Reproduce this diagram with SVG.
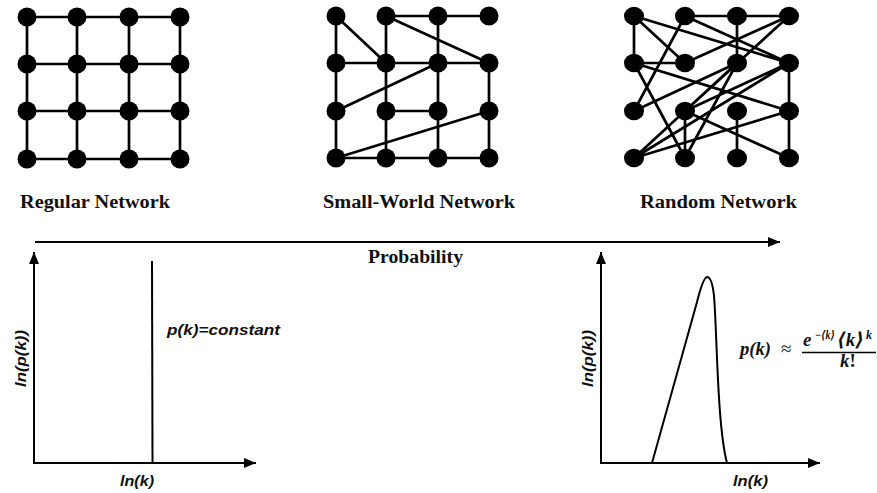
<svg xmlns="http://www.w3.org/2000/svg" width="877" height="493" viewBox="0 0 877 493">
<style>
.e{stroke:#000;stroke-width:2.7;fill:none;stroke-linecap:round}
.n{fill:#000}
.ax{stroke:#000;stroke-width:2;fill:none}
.lbl{font-family:"Liberation Serif",serif;font-weight:bold;font-size:18px;fill:#111}
.sans{font-family:"Liberation Sans",Arial,sans-serif;font-weight:bold;font-style:italic;font-size:15px;fill:#111}
.m{font-family:"Liberation Serif","DejaVu Serif",serif;font-weight:bold;font-style:italic;fill:#111}
</style>
<defs>
<marker id="ah" markerWidth="12" markerHeight="10" refX="12" refY="5" orient="auto" markerUnits="userSpaceOnUse">
<path d="M0,0 L12,5 L0,10 Z" fill="#000"/>
</marker>
</defs>
<rect width="877" height="493" fill="#fff"/>

<g id="connectors">
<g id="regular-edges">
<path class="e" d="M27,17H180M27,64H180M27,111H180M27,159H180M27,17V159M77,17V159M129,17V159M180,17V159"/>
</g>
<g id="smallworld-edges">
<path class="e" d="M386,16H489M336,63H489M386,111H438M336,158H489"/>
<path class="e" d="M336,16V158M386,16V158M438,16V158M489,63V158"/>
<path class="e" d="M336,16L386,63M386,16L489,63M336,111L438,63M336,158L489,111"/>
</g>
<g id="random-edges">
<path class="e" d="M634,16V63M685,16H789M634,63H685M737,16V63M789,63V158M737,111V158M685,111V158"/>
<path class="e" d="M634,16L685,63M634,16L789,63M685,16L789,63M685,16L634,111M685,63L789,16M634,63L685,158M634,63L789,111"/>
<path class="e" d="M634,111L737,63M737,63L634,158M789,16L685,111M737,63L685,158M789,63L634,158M789,63L685,111M789,111L634,158M685,111L789,158"/>
</g>
<line class="ax" x1="35" y1="242" x2="780" y2="242" stroke-width="2.2" marker-end="url(#ah)"/>
<g id="left-axes">
<line class="ax" x1="34" y1="463" x2="34" y2="252" marker-end="url(#ah)"/>
<line class="ax" x1="33" y1="463" x2="256" y2="463" marker-end="url(#ah)"/>
<line class="ax" x1="152" y1="261" x2="152.5" y2="463" stroke-width="2.5"/>
</g>
<g id="right-axes">
<line class="ax" x1="601" y1="463" x2="601" y2="252" marker-end="url(#ah)"/>
<line class="ax" x1="600" y1="463" x2="820" y2="463" marker-end="url(#ah)"/>
<path class="ax" stroke-width="2.5" d="M652,463 L697,302 Q703,278 707,277 Q712,277 714,296 C717,330 717,425 727,463"/>
</g>
</g>

<g id="regular-nodes">
<g id="r00"><circle class="n" cx="27" cy="17" r="9.5"/></g>
<g id="r10"><circle class="n" cx="77" cy="17" r="9.5"/></g>
<g id="r20"><circle class="n" cx="129" cy="17" r="9.5"/></g>
<g id="r30"><circle class="n" cx="180" cy="17" r="9.5"/></g>
<g id="r01"><circle class="n" cx="27" cy="64" r="9.5"/></g>
<g id="r11"><circle class="n" cx="77" cy="64" r="9.5"/></g>
<g id="r21"><circle class="n" cx="129" cy="64" r="9.5"/></g>
<g id="r31"><circle class="n" cx="180" cy="64" r="9.5"/></g>
<g id="r02"><circle class="n" cx="27" cy="111" r="9.5"/></g>
<g id="r12"><circle class="n" cx="77" cy="111" r="9.5"/></g>
<g id="r22"><circle class="n" cx="129" cy="111" r="9.5"/></g>
<g id="r32"><circle class="n" cx="180" cy="111" r="9.5"/></g>
<g id="r03"><circle class="n" cx="27" cy="159" r="9.5"/></g>
<g id="r13"><circle class="n" cx="77" cy="159" r="9.5"/></g>
<g id="r23"><circle class="n" cx="129" cy="159" r="9.5"/></g>
<g id="r33"><circle class="n" cx="180" cy="159" r="9.5"/></g>
</g>

<g id="smallworld-nodes">
<g id="s00"><circle class="n" cx="336" cy="16" r="9.5"/></g>
<g id="s10"><circle class="n" cx="386" cy="16" r="9.5"/></g>
<g id="s20"><circle class="n" cx="438" cy="16" r="9.5"/></g>
<g id="s30"><circle class="n" cx="489" cy="16" r="9.5"/></g>
<g id="s01"><circle class="n" cx="336" cy="63" r="9.5"/></g>
<g id="s11"><circle class="n" cx="386" cy="63" r="9.5"/></g>
<g id="s21"><circle class="n" cx="438" cy="63" r="9.5"/></g>
<g id="s31"><circle class="n" cx="489" cy="63" r="9.5"/></g>
<g id="s02"><circle class="n" cx="336" cy="111" r="9.5"/></g>
<g id="s12"><circle class="n" cx="386" cy="111" r="9.5"/></g>
<g id="s22"><circle class="n" cx="438" cy="111" r="9.5"/></g>
<g id="s32"><circle class="n" cx="489" cy="111" r="9.5"/></g>
<g id="s03"><circle class="n" cx="336" cy="158" r="9.5"/></g>
<g id="s13"><circle class="n" cx="386" cy="158" r="9.5"/></g>
<g id="s23"><circle class="n" cx="438" cy="158" r="9.5"/></g>
<g id="s33"><circle class="n" cx="489" cy="158" r="9.5"/></g>
</g>

<g id="random-nodes">
<g id="q00"><ellipse class="n" cx="634" cy="16" rx="10" ry="9.3"/></g>
<g id="q10"><ellipse class="n" cx="685" cy="16" rx="10" ry="9.3"/></g>
<g id="q20"><ellipse class="n" cx="737" cy="16" rx="10" ry="9.3"/></g>
<g id="q30"><ellipse class="n" cx="789" cy="16" rx="10" ry="9.3"/></g>
<g id="q01"><ellipse class="n" cx="634" cy="63" rx="10" ry="9.3"/></g>
<g id="q11"><ellipse class="n" cx="685" cy="63" rx="10" ry="9.3"/></g>
<g id="q21"><ellipse class="n" cx="737" cy="63" rx="10" ry="9.3"/></g>
<g id="q31"><ellipse class="n" cx="789" cy="63" rx="10" ry="9.3"/></g>
<g id="q02"><ellipse class="n" cx="634" cy="111" rx="10" ry="9.3"/></g>
<g id="q12"><ellipse class="n" cx="685" cy="111" rx="10" ry="9.3"/></g>
<g id="q22"><ellipse class="n" cx="737" cy="111" rx="10" ry="9.3"/></g>
<g id="q32"><ellipse class="n" cx="789" cy="111" rx="10" ry="9.3"/></g>
<g id="q03"><ellipse class="n" cx="634" cy="158" rx="10" ry="9.3"/></g>
<g id="q13"><ellipse class="n" cx="685" cy="158" rx="10" ry="9.3"/></g>
<g id="q23"><ellipse class="n" cx="737" cy="158" rx="10" ry="9.3"/></g>
<g id="q33"><ellipse class="n" cx="789" cy="158" rx="10" ry="9.3"/></g>
</g>

<g id="labels">
<text class="lbl" x="20" y="208" textLength="150" lengthAdjust="spacingAndGlyphs">Regular Network</text>
<text class="lbl" x="323" y="208" textLength="192" lengthAdjust="spacingAndGlyphs">Small-World Network</text>
<text class="lbl" x="640" y="208" textLength="157" lengthAdjust="spacingAndGlyphs">Random Network</text>
<text class="lbl" x="368" y="263" textLength="95" lengthAdjust="spacingAndGlyphs">Probability</text>
</g>

<g id="left-plot-text">
<text class="sans" x="167" y="335" textLength="113" lengthAdjust="spacingAndGlyphs">p(k)=constant</text>
<text class="sans" x="120" y="486" textLength="34" lengthAdjust="spacingAndGlyphs">ln(k)</text>
<text class="sans" transform="translate(26,387) rotate(-90)" textLength="57" lengthAdjust="spacingAndGlyphs">ln(p(k))</text>
</g>

<g id="right-plot-text">
<text class="sans" x="733" y="486" textLength="35" lengthAdjust="spacingAndGlyphs">ln(k)</text>
<text class="sans" transform="translate(593,387) rotate(-90)" textLength="57" lengthAdjust="spacingAndGlyphs">ln(p(k))</text>
<text class="m" x="740" y="355" font-size="19" textLength="31" lengthAdjust="spacingAndGlyphs">p(k)</text>
<text x="781" y="355" font-family="'Liberation Serif',serif" font-size="19" fill="#111">≈</text>
<text class="m" x="803" y="346" font-size="19">e</text>
<text class="m" x="815" y="339" font-size="12" textLength="20" lengthAdjust="spacingAndGlyphs">−⟨k⟩</text>
<text class="m" x="837" y="346" font-size="19" textLength="27" lengthAdjust="spacingAndGlyphs">⟨k⟩</text>
<text class="m" x="866" y="339" font-size="12">k</text>
<line x1="802" y1="352.5" x2="876" y2="352.5" stroke="#000" stroke-width="1.3"/>
<text class="m" x="840" y="367" font-size="19">k<tspan font-style="normal">!</tspan></text>
</g>
</svg>
